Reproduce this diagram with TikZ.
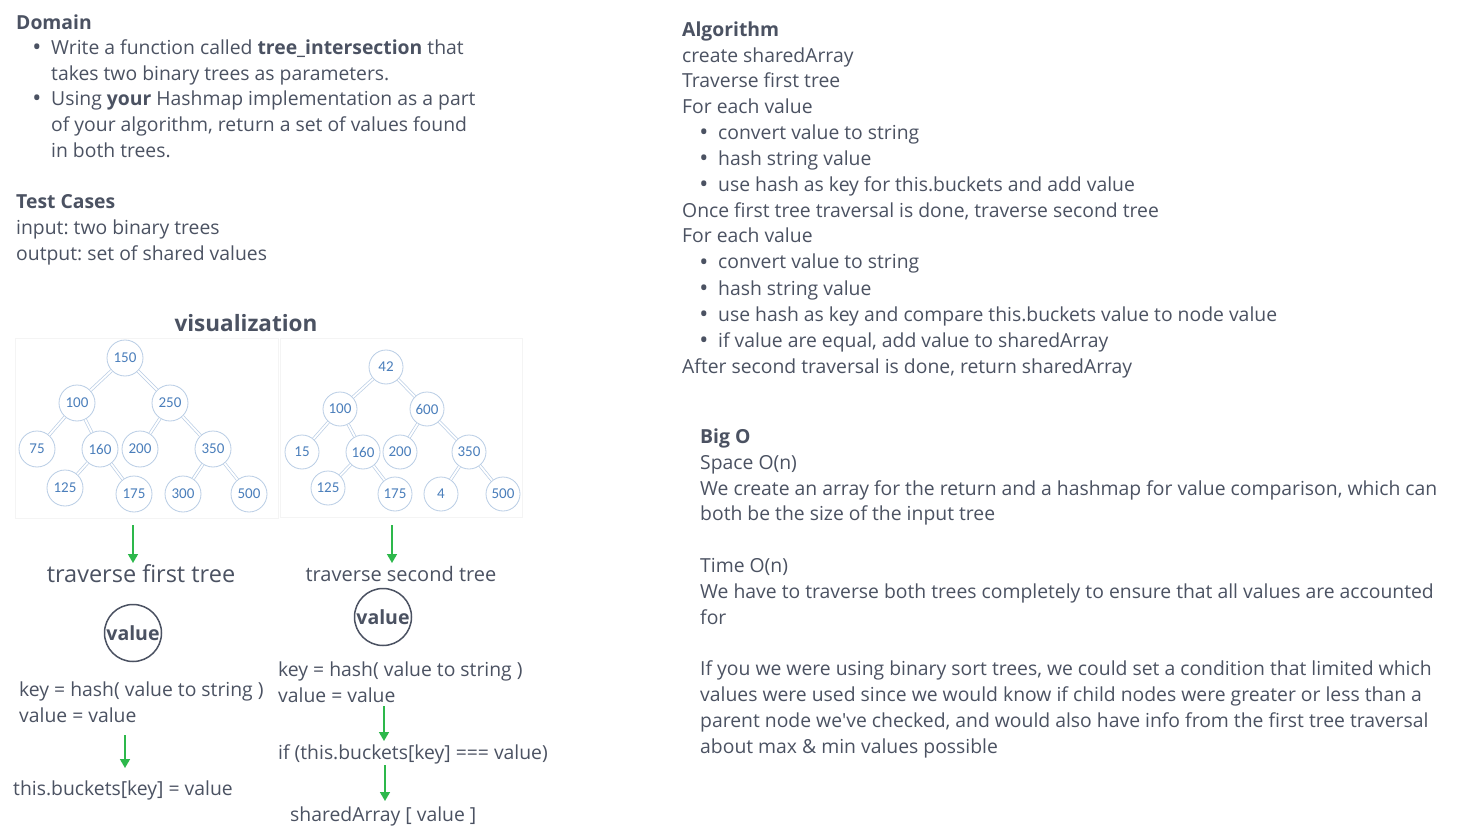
\documentclass[tikz,border=0pt]{standalone}
\usepackage{fontspec}
\setmainfont{Open Sans}
\newfontfamily\numfont{Carlito}
\usetikzlibrary{arrows.meta}
\definecolor{ink}{HTML}{4B5262}
\definecolor{nodeblue}{HTML}{4A7EBB}
\definecolor{nodeborder}{HTML}{B9CDE5}
\definecolor{arrgreen}{HTML}{2DB84B}
\definecolor{panel}{HTML}{F4F4F4}
\newcommand\fsz[1]{\fontsize{#1}{#1}\selectfont}
\frenchspacing
\tikzset{
  txt/.style={anchor=base west, inner sep=0pt, font=\fsz{19.35}, text=ink},
  head/.style={txt, font=\fsz{19.35}\bfseries},
  bul/.style={anchor=base, inner sep=0pt, font=\fsz{24}, text=ink},
  tn/.style={circle, draw=nodeborder, fill=white, line width=0.8pt, minimum size=36pt, inner sep=0pt, font=\numfont\fsz{15}, text=nodeblue},
  tn2/.style={tn, minimum size=34pt},
  edge/.style={draw=nodeborder, double=white, line width=0.7pt, double distance=1.8pt},
  garrow/.style={draw=arrgreen, line width=1.6pt, -{Triangle[width=10pt,length=9pt]}},
  valc/.style={circle, draw=ink, line width=1.5pt, minimum size=57pt, inner sep=0pt, font=\fsz{19.5}\bfseries, text=ink},
}
\begin{document}
\begin{tikzpicture}[x=1pt,y=-1pt]
\useasboundingbox (0,0) rectangle (1462,837);
\fill[white] (0,0) rectangle (1462,837);

% ---------- Domain ----------
\node[head] (dom) at (16,30) {Domain};
\node[bul] (b1) at (37,56) {•};
\node[txt] (d1) at (51,55) {Write a function called \textbf{tree\_intersection} that};
\node[txt] (d2) at (51,81) {takes two binary trees as parameters.};
\node[bul] (b2) at (37,107) {•};
\node[txt] (d3) at (51,106) {Using \textbf{your} Hashmap implementation as a part};
\node[txt] (d4) at (51,132) {of your algorithm, return a set of values found};
\node[txt] (d5) at (51,158) {in both trees.};
\node[head] (tc) at (16,209) {Test Cases};
\node[txt] (t1) at (16,235) {input: two binary trees};
\node[txt] (t2) at (16,261) {output: set of shared values};

% ---------- Algorithm ----------
\node[head] (alg) at (682,37) {Algorithm};
\node[txt] (a1) at (682,63) {create sharedArray};
\node[txt] (a2) at (682,88) {Traverse first tree};
\node[txt] (a3) at (682,114) {For each value};
\node[bul] (ab1) at (704,141) {•};
\node[txt] (a4) at (718,140) {convert value to string};
\node[bul] (ab2) at (704,167) {•};
\node[txt] (a5) at (718,166) {hash string value};
\node[bul] (ab3) at (704,193) {•};
\node[txt] (a6) at (718,192) {use hash as key for this.buckets and add value};
\node[txt] (a7) at (682,218) {Once first tree traversal is done, traverse second tree};
\node[txt] (a8) at (682,243) {For each value};
\node[bul] (ab4) at (704,270) {•};
\node[txt] (a9) at (718,269) {convert value to string};
\node[bul] (ab5) at (704,296) {•};
\node[txt] (a10) at (718,295) {hash string value};
\node[bul] (ab6) at (704,322) {•};
\node[txt] (a11) at (718,321) {use hash as key and compare this.buckets value to node value};
\node[bul] (ab7) at (704,348) {•};
\node[txt] (a12) at (718,347) {if value are equal, add value to sharedArray};
\node[txt] (a13) at (682,373) {After second traversal is done, return sharedArray};

% ---------- Big O ----------
\node[head] (bo) at (700,443) {Big O};
\node[txt] (o1) at (700,469) {Space O(n)};
\node[txt] (o2) at (700,495) {We create an array for the return and a hashmap for value comparison, which can};
\node[txt] (o3) at (700,520) {both be the size of the input tree};
\node[txt] (o4) at (700,572) {Time O(n)};
\node[txt] (o5) at (700,598) {We have to traverse both trees completely to ensure that all values are accounted};
\node[txt] (o6) at (700,624) {for};
\node[txt] (o7) at (700,675) {If you we were using binary sort trees, we could set a condition that limited which};
\node[txt] (o8) at (700,701) {values were used since we would know if child nodes were greater or less than a};
\node[txt] (o9) at (700,727) {parent node we\textquotesingle ve checked, and would also have info from the first tree traversal};
\node[txt] (o10) at (700,753) {about max \& min values possible};

% ---------- visualization ----------
\node[anchor=base, inner sep=0pt, font=\fsz{22.5}\bfseries, text=ink] (vis) at (246,331) {visualization};

% panels
\draw[panel] (15,338) rectangle (278,518);
\draw[panel] (280,338) rectangle (522,517);

% tree 1
\node[tn] (p150) at (125,358) {150};
\node[tn] (p100) at (77,403) {100};
\node[tn] (p250) at (170,403) {250};
\node[tn] (p75) at (37,449) {75};
\node[tn] (p160) at (100,449) {160};
\node[tn] (p200) at (140,449) {200};
\node[tn] (p350) at (213,449) {350};
\node[tn] (p125) at (65,488) {125};
\node[tn] (p175) at (134,494) {175};
\node[tn] (p300) at (183,494) {300};
\node[tn] (p500) at (249,494) {500};
\draw[edge] (p150) -- (p100);
\draw[edge] (p150) -- (p250);
\draw[edge] (p100) -- (p75);
\draw[edge] (p100) -- (p160);
\draw[edge] (p250) -- (p200);
\draw[edge] (p250) -- (p350);
\draw[edge] (p160) -- (p125);
\draw[edge] (p160) -- (p175);
\draw[edge] (p350) -- (p300);
\draw[edge] (p350) -- (p500);

% tree 2
\node[tn2] (q42) at (386,367) {42};
\node[tn2] (q100) at (340,409) {100};
\node[tn2] (q600) at (427,409) {600};
\node[tn2] (q15) at (302,452) {15};
\node[tn2] (q160) at (363,452) {160};
\node[tn2] (q200) at (400,452) {200};
\node[tn2] (q350) at (469,452) {350};
\node[tn2] (q125) at (328,488) {125};
\node[tn2] (q175) at (395,494) {175};
\node[tn2] (q4) at (441,494) {4};
\node[tn2] (q500) at (503,494) {500};
\draw[edge] (q42) -- (q100);
\draw[edge] (q42) -- (q600);
\draw[edge] (q100) -- (q15);
\draw[edge] (q100) -- (q160);
\draw[edge] (q600) -- (q200);
\draw[edge] (q600) -- (q350);
\draw[edge] (q160) -- (q125);
\draw[edge] (q160) -- (q175);
\draw[edge] (q350) -- (q4);
\draw[edge] (q350) -- (q500);

% ---------- flow 1 ----------
\coordinate (s1) at (133,525);
\coordinate (e1) at (133,563);
\draw[garrow] (s1) -- (e1);
\node[anchor=base, inner sep=0pt, font=\fsz{23.5}, text=ink] (tf) at (141,582) {traverse first tree};
\node[valc] (v1) at (133,633) {value};
\node[txt] (k1) at (19,696) {key = hash( value to string )};
\node[txt] (k2) at (19,722) {value = value};
\coordinate (s2) at (125,735);
\coordinate (e2) at (125,768);
\draw[garrow] (s2) -- (e2);
\node[txt] (bk) at (13,795) {this.buckets[key] = value};

% ---------- flow 2 ----------
\coordinate (s3) at (392,525);
\coordinate (e3) at (392,563);
\draw[garrow] (s3) -- (e3);
\node[anchor=base, inner sep=0pt, font=\fsz{20}, text=ink] (ts) at (401,581) {traverse second tree};
\node[valc] (v2) at (383,617) {value};
\node[txt] (k3) at (278,676) {key = hash( value to string )};
\node[txt] (k4) at (278,702) {value = value};
\coordinate (s4) at (384,706);
\coordinate (e4) at (384,741);
\draw[garrow] (s4) -- (e4);
\node[txt] (ifn) at (278,759) {if (this.buckets[key] === value)};
\coordinate (s5) at (385,765);
\coordinate (e5) at (385,801);
\draw[garrow] (s5) -- (e5);
\node[txt] (sa) at (290,821) {sharedArray [ value ]};
\end{tikzpicture}
\end{document}
